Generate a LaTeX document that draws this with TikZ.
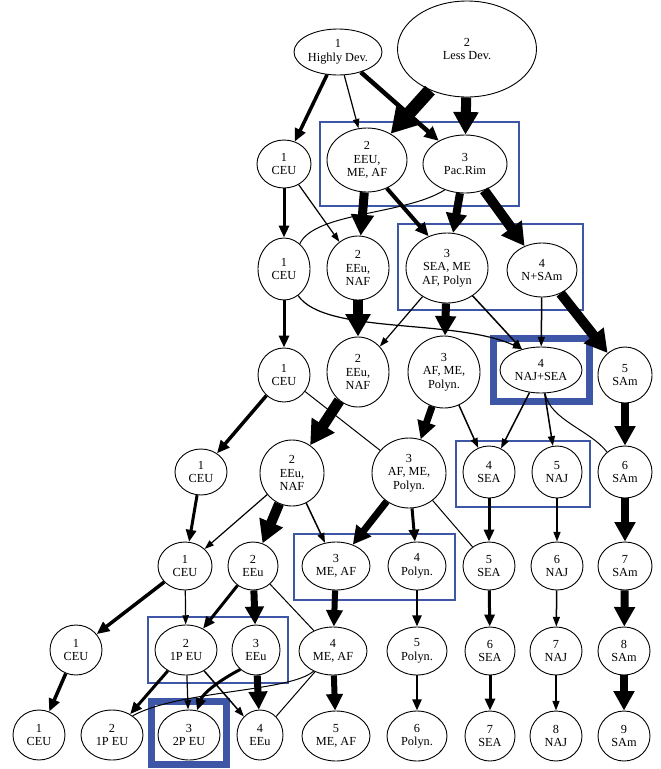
\documentclass[tikz,border=0pt]{standalone}
\usepackage{fontspec}
\setmainfont{Liberation Serif}
\usetikzlibrary{shapes.geometric,arrows.meta}
\definecolor{boxblue}{RGB}{62,86,166}
\tikzset{
  nd/.style={draw, ellipse, line width=0.9pt, inner sep=0pt, align=center,
             font=\fontsize{12.3}{13.5}\selectfont},
  ed/.style={line width=#1, -{Triangle[length=7.5pt 1.5, width=4pt 2]}},
  un/.style={line width=#1},
  thinbox/.style={draw=boxblue, line width=1.2pt},
  thickbox/.style={draw=boxblue, line width=6.5pt},
}
\newcommand{\nd}[6]{\node[nd, minimum width=#4pt, minimum height=#5pt] (#1) at (#2,#3) {#6};}
\begin{document}
\begin{tikzpicture}[x=1pt,y=-1pt]
\useasboundingbox (0,0) rectangle (661,769);
% boxes
\draw[thinbox] (320,122) rectangle (519,206);
\draw[thinbox] (398,224) rectangle (583,310);
\draw[thickbox] (493.5,338.5) rectangle (589.5,401.5);
\draw[thinbox] (456,441) rectangle (590,507);
\draw[thinbox] (294,534) rectangle (455,600);
\draw[thinbox] (148,617) rectangle (288,683);
\draw[thickbox] (151.5,701.5) rectangle (226.5,764.5);
% nodes
\nd{hd}{338}{52}{88}{46}{1\\Highly Dev.}
\nd{ld}{467}{49}{139}{96}{2\\Less Dev.}
\nd{ceu1}{284}{164}{54}{48}{1\\CEU}
\nd{eeu}{367}{160}{80}{64}{2\\EEU,\\ME, AF}
\nd{pac}{465}{164}{84}{58}{3\\Pac.Rim}
\nd{ceu2}{284}{269}{52}{62}{1\\CEU}
\nd{en2}{358}{268}{62}{64}{2\\EEu,\\NAF}
\nd{sea}{447}{268}{82}{70}{3\\SEA, ME\\AF, Polyn}
\nd{nsam}{542}{270}{70}{54}{4\\N+SAm}
\nd{ceu3}{284}{375}{52}{54}{1\\CEU}
\nd{en3}{358}{372}{62}{70}{2\\EEu,\\NAF}
\nd{af3}{444}{372}{72}{72}{3\\AF, ME,\\Polyn.}
\nd{najsea}{541}{370}{82}{46}{4\\NAJ+SEA}
\nd{sam5}{625}{375}{54}{56}{5\\SAm}
\nd{ceu4}{201}{472}{52}{46}{1\\CEU}
\nd{en4}{292}{473}{64}{66}{2\\EEu,\\NAF}
\nd{af4}{409}{473}{74}{70}{3\\AF, ME,\\Polyn.}
\nd{sea4}{489}{472}{52}{52}{4\\SEA}
\nd{naj5}{557}{472}{50}{52}{5\\NAJ}
\nd{sam6}{625}{472}{54}{52}{6\\SAm}
\nd{ceu5}{185}{566}{54}{48}{1\\CEU}
\nd{eeu5}{253}{566}{50}{48}{2\\EEu}
\nd{meaf5}{336}{566}{68}{48}{3\\ME, AF}
\nd{pol4}{417}{566}{58}{48}{4\\Polyn.}
\nd{sea5}{489}{566}{52}{48}{5\\SEA}
\nd{naj6}{557}{566}{52}{48}{6\\NAJ}
\nd{sam7}{625}{566}{54}{48}{7\\SAm}
\nd{ceu6}{76}{650}{52}{50}{1\\CEU}
\nd{peu6}{186}{650}{62}{50}{2\\1P EU}
\nd{eeu6}{256}{650}{48}{50}{3\\EEu}
\nd{meaf6}{333}{651}{68}{48}{4\\ME, AF}
\nd{pol5}{417}{651}{60}{48}{5\\Polyn.}
\nd{sea6}{490}{651}{50}{48}{6\\SEA}
\nd{naj7}{556}{651}{52}{48}{7\\NAJ}
\nd{sam8}{624}{651}{52}{48}{8\\SAm}
\nd{ceu7}{39}{735}{52}{50}{1\\CEU}
\nd{peu7}{112}{735}{62}{50}{2\\1P EU}
\nd{ppeu}{189}{735}{62}{50}{3\\2P EU}
\nd{eeu7}{260}{735}{46}{50}{4\\EEu}
\nd{meaf7}{336}{736}{68}{50}{5\\ME, AF}
\nd{pol6}{417}{736}{60}{50}{6\\Polyn.}
\nd{sea7}{490}{736}{50}{50}{7\\SEA}
\nd{naj8}{556}{736}{52}{50}{8\\NAJ}
\nd{sam9}{624}{736}{52}{50}{9\\SAm}
% edges row 0 -> 1
\draw[ed=3.5] (hd) -- (ceu1);
\draw[ed=1.2] (hd) -- (eeu);
\draw[ed=4.5] (hd) -- (pac);
\draw[ed=13] (ld) -- (eeu);
\draw[ed=10] (ld) -- (pac);
% row 1 -> 2
\draw[ed=3] (ceu1) -- (ceu2);
\draw[ed=1.2] (ceu1) -- (en2);
\draw[ed=9] (eeu) -- (en2);
\draw[ed=4] (eeu.-55) -- (sea.120);
\draw[un=1] (pac.232) .. controls (405,215) and (315,212) .. (ceu2.58);
\draw[ed=8] (pac) -- (sea);
\draw[ed=10] (pac) -- (nsam);
% row 2 -> 3
\draw[ed=3] (ceu2) -- (ceu3);
\draw[ed=1.2] (ceu2.298) .. controls (325,335) and (455,318) .. (najsea.132);
\draw[ed=10] (en2) -- (en3);
\draw[ed=1.2] (sea) -- (en3);
\draw[ed=8] (sea) -- (af3);
\draw[ed=1.5] (sea) -- (najsea);
\draw[ed=1.5] (nsam) -- (najsea);
\draw[ed=10] (nsam) -- (sam5);
% row 3 -> 4
\draw[ed=3.5] (ceu3) -- (ceu4);
\draw[un=1] (ceu3) -- (af4);
\draw[ed=11] (en3) -- (en4);
\draw[ed=7] (af3) -- (af4);
\draw[ed=1.5] (af3) -- (sea4);
\draw[ed=1.5] (najsea) -- (sea4);
\draw[ed=1.5] (najsea) -- (naj5);
\draw[un=1] (najsea.280) .. controls (550,420) and (590,430) .. (sam6.132);
\draw[ed=8] (sam5) -- (sam6);
% row 4 -> 5
\draw[ed=3] (ceu4) -- (ceu5);
\draw[ed=1.2] (en4) -- (ceu5);
\draw[ed=10] (en4) -- (eeu5);
\draw[ed=1.5] (en4) -- (meaf5);
\draw[ed=7] (af4) -- (meaf5);
\draw[ed=3] (af4) -- (pol4);
\draw[un=1] (af4) -- (sea5);
\draw[ed=3] (sea4) -- (sea5);
\draw[ed=1.5] (naj5) -- (naj6);
\draw[ed=8] (sam6) -- (sam7);
% row 5 -> 6
\draw[ed=3.5] (ceu5) -- (ceu6);
\draw[ed=1.2] (ceu5) -- (peu6);
\draw[ed=3] (eeu5) -- (peu6);
\draw[ed=7] (eeu5) -- (eeu6);
\draw[un=1] (eeu5) -- (meaf6);
\draw[ed=6] (meaf5) -- (meaf6);
\draw[ed=2.5] (pol4) -- (pol5);
\draw[ed=3] (sea5) -- (sea6);
\draw[ed=1.5] (naj6) -- (naj7);
\draw[ed=8] (sam7) -- (sam8);
% row 6 -> 7
\draw[ed=3.5] (ceu6) -- (ceu7);
\draw[ed=3] (peu6) -- (peu7);
\draw[ed=1.2] (peu6) -- (ppeu);
\draw[ed=1.5] (peu6) -- (eeu7);
\draw[ed=3] (eeu6.231) .. controls (220,680) and (203,693) .. (ppeu.72);
\draw[ed=7] (eeu6) -- (eeu7);
\draw[un=1] (meaf6.226) .. controls (290,692) and (180,690) .. (peu7.43);
\draw[un=1] (meaf6) -- (eeu7);
\draw[ed=6] (meaf6) -- (meaf7);
\draw[ed=2.5] (pol5) -- (pol6);
\draw[ed=3] (sea6) -- (sea7);
\draw[ed=1.5] (naj7) -- (naj8);
\draw[ed=8] (sam8) -- (sam9);
\end{tikzpicture}
\end{document}
